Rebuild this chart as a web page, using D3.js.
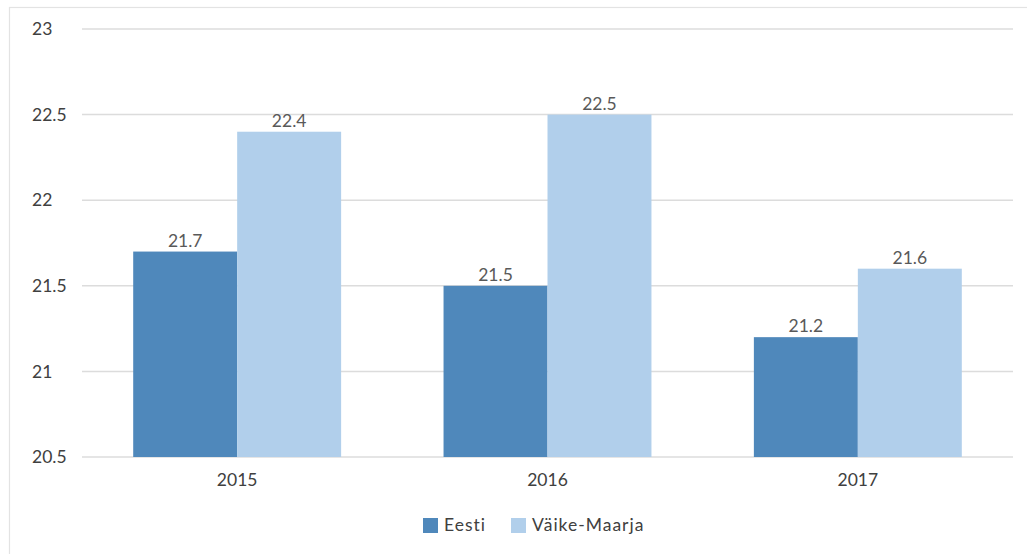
<!DOCTYPE html>
<html><head><meta charset="utf-8">
<script src="https://cdn.jsdelivr.net/npm/d3@7"></script>
<style>body{margin:0;background:#fff}svg{display:block}</style>
</head><body>
<script>
const categories = ["2015","2016","2017"];
const seriesNames = ["Eesti","Väike-Maarja"];
const eesti = [21.7, 21.5, 21.2];
const vaikeMaarja = [22.4, 22.5, 21.6];
const yTicks = [20.5, 21, 21.5, 22, 22.5, 23];
const colors = ["#4f88bb", "#b1cfeb"];

(function () {
const W = 1027, H = 554;
const svg = d3.select("body").append("svg").attr("width", W).attr("height", H);
const font = "Lato, 'Open Sans', sans-serif";
const fs = 17.5;

svg.append("rect").attr("x", 9.5).attr("y", 7.5).attr("width", 1040).attr("height", 600)
  .attr("fill", "none").attr("stroke", "#e3e3e3").attr("stroke-width", 1.2);

const pLeft = 82, pRight = 1013, pTop = 29, pBottom = 457;
const y = d3.scaleLinear().domain([20.5, 23]).range([pBottom, pTop]);
const x0 = d3.scaleBand().domain(categories).range([pLeft, pRight]).paddingInner(0.33).paddingOuter(0.165);
const x1 = d3.scaleBand().domain(seriesNames).range([0, x0.bandwidth()]);

svg.append("g").selectAll("line").data(yTicks).join("line")
  .attr("x1", pLeft).attr("x2", pRight)
  .attr("y1", d => y(d)).attr("y2", d => y(d))
  .attr("stroke", "#dcdcdc").attr("stroke-width", 1.5);

svg.append("g").selectAll("text").data(yTicks).join("text")
  .attr("x", 32).attr("y", d => y(d)).attr("dy", "0.35em")
  .attr("font-family", font).attr("font-size", fs).attr("fill", "#404040")
  .text(d => d);

const series = [eesti, vaikeMaarja];
categories.forEach((c, i) => {
  const g = svg.append("g").attr("transform", `translate(${x0(c)},0)`);
  seriesNames.forEach((s, j) => {
    const v = series[j][i];
    g.append("rect").attr("x", x1(s)).attr("width", x1.bandwidth())
      .attr("y", y(v)).attr("height", y(20.5) - y(v)).attr("fill", colors[j]);
    g.append("text").attr("x", x1(s) + x1.bandwidth() / 2).attr("y", y(v) - 5)
      .attr("text-anchor", "middle").attr("font-family", font).attr("font-size", fs)
      .attr("fill", "#595959").text(v.toFixed(1));
  });
});

svg.append("g").selectAll("text").data(categories).join("text")
  .attr("x", d => x0(d) + x0.bandwidth() / 2).attr("y", 480).attr("dy", "0.35em")
  .attr("text-anchor", "middle").attr("font-family", font).attr("font-size", fs)
  .attr("fill", "#404040").text(d => d);

const legendX = [423, 511];
const lg = svg.append("g");
seriesNames.forEach((s, j) => {
  lg.append("rect").attr("x", legendX[j]).attr("y", 518).attr("width", 15).attr("height", 15).attr("fill", colors[j]);
  lg.append("text").attr("x", legendX[j] + 21).attr("y", 525).attr("dy", "0.35em")
    .attr("font-family", font).attr("font-size", fs).attr("letter-spacing", 1)
    .attr("fill", "#404040").text(s);
});
})();
</script>
</body></html>
